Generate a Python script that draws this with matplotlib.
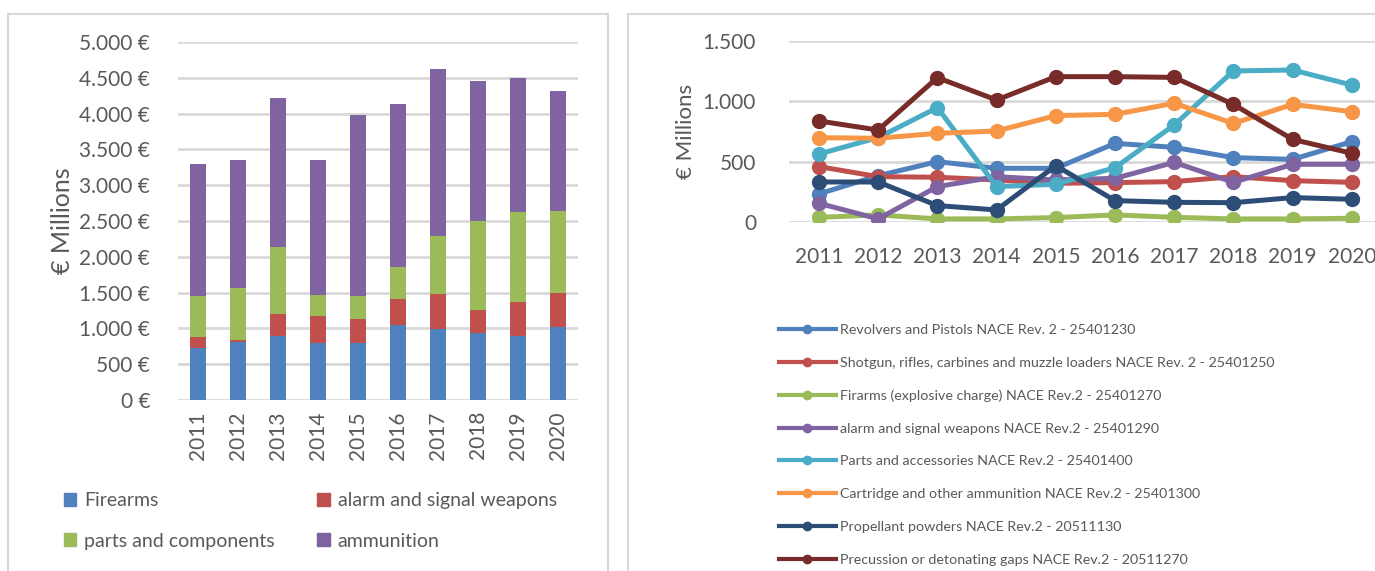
import matplotlib
matplotlib.use('Agg')
import matplotlib.pyplot as plt
from matplotlib.patches import Rectangle, Patch
from matplotlib.lines import Line2D
import numpy as np

plt.rcParams['font.family'] = ['Lato', 'DejaVu Sans']

years = ['2011', '2012', '2013', '2014', '2015', '2016', '2017', '2018', '2019', '2020']

# left chart: stacked bars, € millions
firearms = [733, 815, 896, 799, 799, 1049, 993, 942, 896, 1013]
alarm = [143, 25, 300, 372, 331, 361, 494, 311, 474, 479]
parts = [570, 718, 947, 300, 316, 454, 799, 1252, 1252, 1145]
ammunition = [1848, 1792, 2078, 1874, 2536, 2265, 2342, 1955, 1874, 1676]

bar_names = ['Firearms', 'alarm and signal weapons', 'parts and components', 'ammunition']
bar_colors = ['#4F81BD', '#C0504D', '#9BBB59', '#8064A2']

# right chart: lines, € millions
revolvers = [235, 385, 501, 446, 446, 652, 619, 534, 520, 666]
shotguns = [460, 377, 372, 350, 322, 328, 336, 377, 344, 330]
firearms_expl = [41, 61, 28, 28, 39, 61, 41, 28, 28, 33]
alarm_signal = [157, 28, 295, 377, 350, 363, 495, 330, 479, 479]
parts_acc = [564, 700, 947, 295, 314, 451, 804, 1250, 1258, 1134]
cartridge = [699, 694, 735, 754, 881, 892, 983, 817, 974, 914]
propellant = [333, 333, 138, 102, 468, 179, 165, 162, 204, 190]
percussion = [837, 762, 1195, 1010, 1203, 1203, 1197, 974, 685, 570]

line_names = ['Revolvers and Pistols NACE Rev. 2 - 25401230',
              'Shotgun, rifles, carbines and muzzle loaders NACE Rev. 2 - 25401250',
              'Firarms (explosive charge) NACE Rev.2 - 25401270',
              'alarm and signal weapons NACE Rev.2 - 25401290',
              'Parts and accessories NACE Rev.2 - 25401400',
              'Cartridge and other ammunition NACE Rev.2 - 25401300',
              'Propellant powders NACE Rev.2 - 20511130',
              'Precussion or detonating gaps NACE Rev.2 - 20511270']
line_data = [revolvers, shotguns, firearms_expl, alarm_signal, parts_acc, cartridge, propellant, percussion]
line_colors = ['#4F81BD', '#C0504D', '#9BBB59', '#8064A2', '#4BACC6', '#F79646', '#2C4D75', '#772C2A']

W, H = 1375, 571
fig = plt.figure(figsize=(W / 100, H / 100), dpi=100)
txt = '#595959'
grid = '#D9D9D9'

# panel borders
fig.add_artist(Rectangle((8 / W, -0.05), 600 / W, 1.05 - 14 / H, transform=fig.transFigure,
                         fill=False, edgecolor=grid, lw=1.5))
fig.add_artist(Rectangle((628 / W, -0.05), 0.6, 1.05 - 14 / H, transform=fig.transFigure,
                         fill=False, edgecolor=grid, lw=1.5))

# ---- left: stacked bars
ax1 = fig.add_axes([178 / W, 1 - 400 / H, 400 / W, 358 / H])
x = np.arange(len(years))
bottom = np.zeros(len(years))
for vals, c in zip([firearms, alarm, parts, ammunition], bar_colors):
    ax1.bar(x, vals, 0.4, bottom=bottom, color=c, zorder=3)
    bottom += np.array(vals)
ax1.set_xlim(-0.5, 9.5)
ax1.set_ylim(0, 5000)
ax1.set_yticks(range(0, 5001, 500))
ax1.set_yticklabels(['{:,} €'.format(v).replace(',', '.') for v in range(0, 5001, 500)])
ax1.set_xticks(x)
ax1.set_xticklabels(years, rotation=90)
ax1.tick_params(axis='y', length=0, pad=20, labelsize=15, labelcolor=txt)
ax1.tick_params(axis='x', length=0, pad=8, labelsize=15, labelcolor=txt)
ax1.grid(axis='y', color=grid, lw=2, zorder=0)
for s in ax1.spines.values():
    s.set_visible(False)
ax1.set_ylabel('€ Millions', fontsize=18, color=txt, labelpad=4)

order = [0, 2, 1, 3]
handles = [Patch(color=bar_colors[i]) for i in order]
fig.legend(handles, [bar_names[i] for i in order], ncol=2, loc='center left',
           bbox_to_anchor=(46 / W, 1 - 521 / H), frameon=False, fontsize=14,
           labelcolor=txt, handlelength=0.65, handleheight=0.65, handletextpad=0.4,
           columnspacing=2.2, labelspacing=1.2)

# ---- right: lines
ax2 = fig.add_axes([789.4 / W, 1 - 222.3 / H, 592 / W, 181.6 / H])
for vals, c in zip(line_data, line_colors):
    ax2.plot(x, vals, color=c, lw=3.6, marker='o', markersize=10, zorder=3)
ax2.set_xlim(-0.5, 9.5)
ax2.set_ylim(0, 1500)
ax2.set_yticks([0, 500, 1000, 1500])
ax2.set_yticklabels(['0', '500', '1.000', '1.500'])
ax2.set_xticks(x)
ax2.set_xticklabels(years)
ax2.tick_params(axis='y', length=0, pad=24, labelsize=15, labelcolor=txt)
ax2.tick_params(axis='x', length=0, pad=18, labelsize=15, labelcolor=txt)
ax2.grid(axis='y', color=grid, lw=2, zorder=0)
for s in ax2.spines.values():
    s.set_visible(False)
ax2.set_ylabel('€ Millions', fontsize=16, color=txt, labelpad=5)

lhandles = [Line2D([], [], color=c, lw=3, marker='o', markersize=6) for c in line_colors]
fig.legend(lhandles, line_names, loc='upper left', bbox_to_anchor=(766 / W, 1 - 311 / H),
           frameon=False, fontsize=10.3, labelcolor=txt, handlelength=4.0,
           handletextpad=0.25, labelspacing=1.45)

fig.savefig('out.png', dpi=100)
